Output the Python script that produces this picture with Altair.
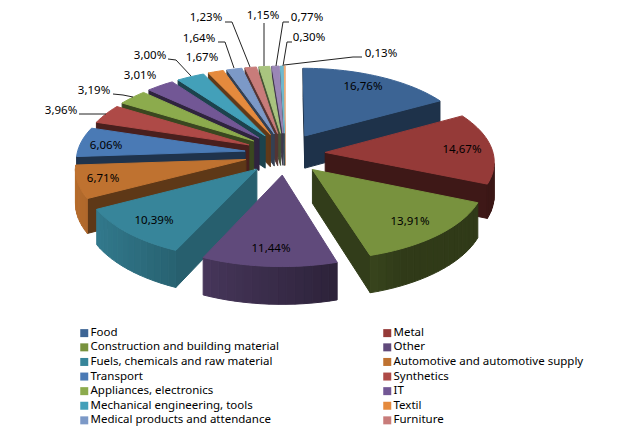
import math
import altair as alt
import pandas as pd

categories = ["Food", "Metal", "Construction and building material", "Other",
              "Fuels, chemicals and raw material", "Automotive and automotive supply",
              "Transport", "Synthetics", "Appliances, electronics", "IT",
              "Mechanical engineering, tools", "Textil", "Medical products and attendance",
              "Furniture", "Slice 15", "Slice 16", "Slice 17", "Slice 18"]
values = [16.76, 14.67, 13.91, 11.44, 10.39, 6.71, 6.06, 3.96, 3.19, 3.01, 3.00,
          1.67, 1.64, 1.23, 1.15, 0.77, 0.30, 0.13]
colors = ["#3C6494", "#953A38", "#78923E", "#604A7B", "#37859A", "#BF7230",
          "#4A7AB5", "#AE4A47", "#8CAB4D", "#725795", "#43A0B9", "#E58A3D",
          "#7C99C7", "#C87C7A", "#A9C47F", "#9A86B6", "#6FB9CE", "#F6AE76"]
legend_names = categories[:14]

# label placement (centre of text, in page pixels)
label_x = [363, 462, 410, 271, 154, 103, 106, 61, 94, 140, 150, 202, 199, 206, 263, 307, 309, 381]
label_y = [87, 150, 222, 249, 221, 179, 146, 111, 91, 76, 56, 58, 39, 18, 16, 18, 38, 54]
leaders = [
    [(79, 114), (106, 114)],
    [(113, 94), (123, 95), (133, 97)],
    [(168, 59), (176, 60), (191, 76)],
    [(218, 42), (225, 42), (234, 68)],
    [(225, 22), (232, 22), (250, 67)],
    [(264, 23), (264, 66)],
    [(289, 22), (283, 22), (276, 66)],
    [(292, 42), (287, 42), (283, 66)],
    [(362, 57), (353, 57), (284, 65)],
]

# 3D pie projection
CX, CY, RX, RZ, P, EX, EZ, TH = 285, 153.6, 168, 77.7, 0.1, 0.24, 0.27, 33
EYE_Z = -1 / P


def project(x, z, drop=0.0):
    s = 1 / (1 + P * z)
    return CX + RX * x * s, CY - RZ * z * s + drop * s


def shade(hex_col, f):
    r, g, b = (int(hex_col[i:i + 2], 16) for i in (1, 3, 5))
    return "#%02x%02x%02x" % (int(r * f), int(g * f), int(b * f))


total = sum(values)
slices = []
cum = 0.0
for i, v in enumerate(values):
    a0 = cum / total * 2 * math.pi
    cum += v
    a1 = cum / total * 2 * math.pi
    mid = (a0 + a1) / 2
    slices.append((i, a0, a1, EX * math.sin(mid), EZ * math.cos(mid)))

rows = []
pid = 0


def add_poly(points, fill):
    global pid
    pts = list(points) + [points[0]]
    for k, (x, y) in enumerate(pts):
        rows.append({"poly": pid, "ord": k, "X": x, "Y": y, "fill": fill})
    pid += 1


def wall_factor(normal_deg):
    return max(0.42, 0.72 - (normal_deg - 114) * 0.006)


for i, a0, a1, ax, az in sorted(slices, key=lambda s: -s[4]):
    col = colors[i]
    # radial walls
    for ang, side in ((a0, -1), (a1, 1)):
        nang = ang + side * math.pi / 2
        nx, nz = math.sin(nang), math.cos(nang)
        if nx * ax + nz * (az - EYE_Z) < 0:
            ex, ez = ax + math.sin(ang), az + math.cos(ang)
            deg = math.degrees(nang) % 360
            add_poly([project(ax, az), project(ex, ez), project(ex, ez, TH), project(ax, az, TH)],
                     shade(col, wall_factor(deg)))
    # rim
    n = max(1, int(math.degrees(a1 - a0) / 2.5))
    for k in range(n):
        t0 = a0 + (a1 - a0) * k / n
        t1 = a0 + (a1 - a0) * (k + 1) / n
        tm = (t0 + t1) / 2
        mx, mz = ax + math.sin(tm), az + math.cos(tm)
        if math.sin(tm) * mx + math.cos(tm) * (mz - EYE_Z) < 0:
            f = max(0.4, 0.58 - 0.38 * math.sin(tm))
            p0 = (ax + math.sin(t0), az + math.cos(t0))
            p1 = (ax + math.sin(t1), az + math.cos(t1))
            add_poly([project(*p0), project(*p1), project(*p1, TH), project(*p0, TH)], shade(col, f))
    # top face
    n = max(2, int(math.degrees(a1 - a0) / 2))
    top = [project(ax, az)]
    for k in range(n + 1):
        t = a0 + (a1 - a0) * k / n
        top.append(project(ax + math.sin(t), az + math.cos(t)))
    add_poly(top, col)

xs = alt.Scale(domain=[8, 628], range=[0, 620], nice=False, zero=False)
ys = alt.Scale(domain=[16, 436], range=[0, 420], nice=False, zero=False)
X = lambda f: alt.X(f, scale=xs, axis=None, title=None)
Y = lambda f: alt.Y(f, scale=ys, axis=None, title=None)

faces = alt.Chart(pd.DataFrame(rows)).mark_line(strokeWidth=1, clip=False).encode(
    x=X("X:Q"), y=Y("Y:Q"), order="ord:Q", detail="poly:N",
    fill=alt.Fill("fill:N", scale=None), stroke=alt.Stroke("fill:N", scale=None))

lead_rows = []
for j, path in enumerate(leaders):
    for k, (x, y) in enumerate(path):
        lead_rows.append({"id": j, "ord": k, "X": x, "Y": y})
lead = alt.Chart(pd.DataFrame(lead_rows)).mark_line(color="#222222", strokeWidth=1).encode(
    x=X("X:Q"), y=Y("Y:Q"), order="ord:Q", detail="id:N")

FONT = "Noto Sans"
labels_df = pd.DataFrame({
    "t": [f"{v:.2f}%".replace(".", ",") for v in values],
    "X": label_x, "Y": label_y})
labels = alt.Chart(labels_df).mark_text(font=FONT, fontSize=11.5, color="#000000",
                                        align="center", baseline="middle").encode(
    x=X("X:Q"), y=Y("Y:Q"), text="t:N")

column_first = legend_names[0::2] + legend_names[1::2]
col_of = dict(zip(categories, colors))
legend_df = pd.DataFrame({"cat": legend_names, "X": [300] * 14, "Y": [150] * 14})
legend_layer = alt.Chart(legend_df).mark_square(size=0).encode(
    x=X("X:Q"), y=Y("Y:Q"),
    color=alt.Color("cat:N",
                    scale=alt.Scale(domain=column_first, range=[col_of[c] for c in column_first]),
                    sort=column_first,
                    legend=alt.Legend(orient="none", legendX=70.5, legendY=311, columns=2, title=None,
                                      symbolType="square", symbolSize=64, symbolStrokeWidth=0,
                                      symbolOpacity=1,
                                      labelFont=FONT, labelFontSize=11.5, labelColor="#000000",
                                      labelLimit=300, columnPadding=102, rowPadding=1.6,
                                      labelOffset=0.5, padding=0)))

chart = alt.layer(faces, lead, labels, legend_layer).properties(
    width=620, height=420,
    padding={"left": 0, "right": 0, "top": 8, "bottom": 0},
    autosize=alt.AutoSizeParams(type="none"),
    background="#ffffff"
).configure_view(stroke=None)

chart.save("out.html", embed_options={"renderer": "svg", "actions": False})
